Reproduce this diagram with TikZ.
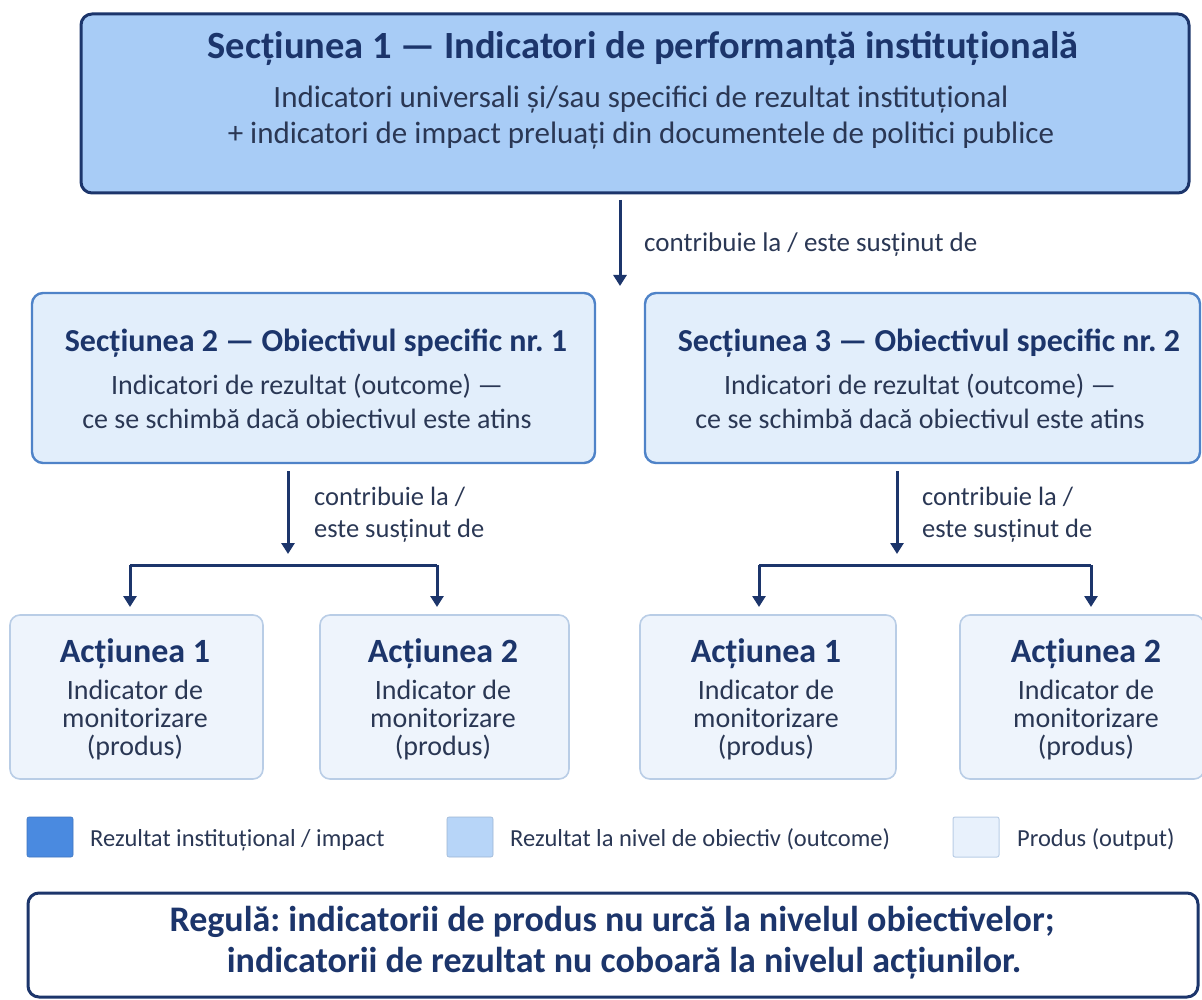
\documentclass[tikz,border=0pt]{standalone}
\usepackage{fontspec}
\setmainfont{Carlito}
\frenchspacing
\usetikzlibrary{arrows.meta,positioning,calc}
\definecolor{navy}{HTML}{1C356B}
\definecolor{txt}{HTML}{2A3754}
\definecolor{topfill}{HTML}{A8CCF6}
\definecolor{midfill}{HTML}{E2EEFB}
\definecolor{midline}{HTML}{4F83C8}
\definecolor{actfill}{HTML}{EEF4FC}
\definecolor{actline}{HTML}{B9CDE6}
\definecolor{legA}{HTML}{4A8AE0}
\definecolor{legB}{HTML}{B7D5F8}
\definecolor{legC}{HTML}{E8F1FC}
\tikzset{
  box/.style={rectangle, rounded corners=11pt, inner sep=0pt},
  topbox/.style={box, fill=topfill, draw=navy, line width=3pt},
  midbox/.style={box, fill=midfill, draw=midline, line width=2.4pt},
  actbox/.style={box, rounded corners=10pt, fill=actfill, draw=actline, line width=1.6pt},
  rulebox/.style={box, fill=white, draw=navy, line width=3pt},
  ttl/.style={font=\bfseries, text=navy, inner sep=0pt, anchor=mid},
  body/.style={text=txt, inner sep=0pt, anchor=mid},
  lbl/.style={text=txt, inner sep=0pt, anchor=mid west, font=\fontsize{26.5}{30}\selectfont},
  arr/.style={draw=navy, line width=3pt, -{Triangle[width=13pt,length=11pt]}},
  bar/.style={draw=navy, line width=3pt},
  legsq/.style={rectangle, rounded corners=2pt, minimum width=46pt, minimum height=40pt, inner sep=0pt}
}
\begin{document}
\begin{tikzpicture}[x=1pt,y=-1pt]
\useasboundingbox (0,0) rectangle (1202,1000);
% top box
\node[topbox, minimum width=1108pt, minimum height=179pt] (top) at (635,103.5) {};
\node[ttl, font=\fontsize{38.5}{42}\selectfont\bfseries] (topT) at (643,56) {Secțiunea 1 — Indicatori de performanță instituțională};
\node[body, font=\fontsize{31}{36}\selectfont] (topB1) at (641,105) {Indicatori universali și/sau specifici de rezultat instituțional};
\node[body, font=\fontsize{31}{36}\selectfont] (topB2) at (641,141) {+ indicatori de impact preluați din documentele de politici publice};
% top arrow
\coordinate (t0) at (620,200);
\coordinate (t1) at (620,286);
\draw[arr] (t0) -- (t1);
\node[lbl, font=\fontsize{27}{30}\selectfont] (tl) at (644,249) {contribuie la / este susținut de};
% S2, S3
\node[midbox, minimum width=563pt, minimum height=170pt] (s2) at (313.5,378) {};
\node[midbox, minimum width=555pt, minimum height=170pt] (s3) at (922.5,378) {};
\node[ttl, font=\fontsize{32}{36}\selectfont\bfseries] (s2T) at (316,349) {Secțiunea 2 — Obiectivul specific nr. 1};
\node[body, font=\fontsize{28}{32}\selectfont] (s2B1) at (307,392) {Indicatori de rezultat (outcome) —};
\node[body, font=\fontsize{28}{32}\selectfont] (s2B2) at (307,426) {ce se schimbă dacă obiectivul este atins};
\node[ttl, font=\fontsize{32}{36}\selectfont\bfseries] (s3T) at (929,349) {Secțiunea 3 — Obiectivul specific nr. 2};
\node[body, font=\fontsize{28}{32}\selectfont] (s3B1) at (920,392) {Indicatori de rezultat (outcome) —};
\node[body, font=\fontsize{28}{32}\selectfont] (s3B2) at (920,426) {ce se schimbă dacă obiectivul este atins};
% S2 arrows
\coordinate (a2s) at (288,471);
\coordinate (a2e) at (288,554);
\draw[arr] (a2s) -- (a2e);
\node[lbl] (l2a) at (314,503) {contribuie la /};
\node[lbl] (l2b) at (314,535) {este susținut de};
\coordinate (b2L) at (130,565);
\coordinate (b2R) at (437,565);
\coordinate (b2Le) at (130,607);
\coordinate (b2Re) at (437,607);
\draw[bar] (b2L) -- (b2R);
\draw[arr] (b2L) -- (b2Le);
\draw[arr] (b2R) -- (b2Re);
% S3 arrows
\coordinate (a3s) at (897,471);
\coordinate (a3e) at (897,554);
\draw[arr] (a3s) -- (a3e);
\node[lbl] (l3a) at (922,503) {contribuie la /};
\node[lbl] (l3b) at (922,535) {este susținut de};
\coordinate (b3L) at (759,565);
\coordinate (b3R) at (1091,565);
\coordinate (b3Le) at (759,607);
\coordinate (b3Re) at (1091,607);
\draw[bar] (b3L) -- (b3R);
\draw[arr] (b3L) -- (b3Le);
\draw[arr] (b3R) -- (b3Re);
% action boxes
\node[actbox, minimum width=253pt, minimum height=164pt] (A1) at (136.5,697) {};
\node[actbox, minimum width=249pt, minimum height=164pt] (A2) at (444.5,697) {};
\node[actbox, minimum width=256pt, minimum height=164pt] (A3) at (768,697) {};
\node[actbox, minimum width=244pt, minimum height=164pt] (A4) at (1082,697) {};
\foreach \n/\cx/\t in {A1/135/1, A2/443/2, A3/766/1, A4/1086/2}{
  \node[ttl, font=\fontsize{34}{38}\selectfont\bfseries] (\n t) at (\cx,660) {Acțiunea \t};
  \node[body, font=\fontsize{28}{32}\selectfont] (\n a) at (\cx,697) {Indicator de};
  \node[body, font=\fontsize{28}{32}\selectfont] (\n b) at (\cx,725) {monitorizare};
  \node[body, font=\fontsize{28}{32}\selectfont] (\n c) at (\cx,753) {(produs)};
}
% legend
\node[legsq, fill=legA, draw=legA!85!black, line width=0.6pt] (L1) at (50,837) {};
\node[lbl, font=\fontsize{24.5}{28}\selectfont] (L1t) at (90,844) {Rezultat instituțional / impact};
\node[legsq, fill=legB, draw=legB!85!black, line width=0.6pt] (L2) at (470,837) {};
\node[lbl, font=\fontsize{24.5}{28}\selectfont] (L2t) at (510,844) {Rezultat la nivel de obiectiv (outcome)};
\node[legsq, fill=legC, draw=actline, line width=1pt] (L3) at (976,837) {};
\node[lbl, font=\fontsize{24.5}{28}\selectfont] (L3t) at (1017,844) {Produs (output)};
% rule box
\node[rulebox, minimum width=1170pt, minimum height=104pt] (R) at (613,945) {};
\node[ttl, font=\fontsize{36}{40}\selectfont\bfseries] (R1) at (612,929) {Regulă: indicatorii de produs nu urcă la nivelul obiectivelor;};
\node[ttl, font=\fontsize{36}{40}\selectfont\bfseries] (R2) at (624,970) {indicatorii de rezultat nu coboară la nivelul acțiunilor.};
\end{tikzpicture}
\end{document}
